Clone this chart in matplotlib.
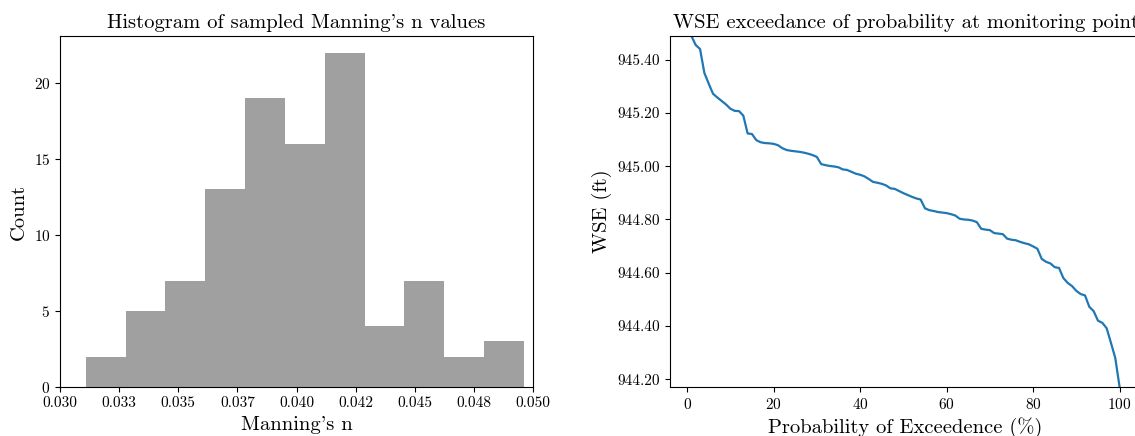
"""Histogram of sampled Manning's n and WSE exceedance curve."""

import matplotlib
matplotlib.use("Agg")
import matplotlib.pyplot as plt
from matplotlib.ticker import FormatStrFormatter


# Histogram of sampled Manning's n (11 bins, 100 samples)
N_MIN = 0.03109
N_MAX = 0.04961
HIST_COUNTS = [2, 5, 7, 13, 19, 16, 22, 4, 7, 2, 3]

# WSE values sorted descending, one per sample (exceedance rank 1..100)
WSE_SORTED = [
    945.489, 945.455, 945.440, 945.350, 945.310, 945.272, 945.258, 945.245,
    945.232, 945.216, 945.208, 945.207, 945.190, 945.123, 945.121, 945.098,
    945.090, 945.087, 945.086, 945.084, 945.079, 945.068, 945.061, 945.058,
    945.056, 945.054, 945.051, 945.047, 945.042, 945.035, 945.008, 945.004,
    945.001, 944.999, 944.996, 944.988, 944.986, 944.979, 944.972, 944.968,
    944.962, 944.952, 944.941, 944.938, 944.934, 944.928, 944.917, 944.915,
    944.907, 944.899, 944.892, 944.885, 944.879, 944.875, 944.842, 944.835,
    944.832, 944.828, 944.826, 944.824, 944.820, 944.815, 944.803, 944.800,
    944.799, 944.796, 944.790, 944.765, 944.762, 944.760, 944.749, 944.747,
    944.745, 944.728, 944.724, 944.722, 944.716, 944.711, 944.707, 944.699,
    944.690, 944.652, 944.641, 944.635, 944.621, 944.618, 944.580, 944.562,
    944.550, 944.532, 944.520, 944.515, 944.472, 944.456, 944.420, 944.412,
    944.392, 944.337, 944.280, 944.171,
]

TITLE_SIZE = 14.8
LABEL_SIZE = 14.8
TICK_SIZE = 11

plt.rcParams["font.family"] = "serif"
plt.rcParams["font.serif"] = ["cmr10"]
plt.rcParams["mathtext.fontset"] = "cm"
plt.rcParams["axes.formatter.use_mathtext"] = True

fig = plt.figure(figsize=(11.35, 4.36), dpi=100)
ax1 = fig.add_axes([60 / 1135, 49 / 436, 473 / 1135, 351 / 436])
ax2 = fig.add_axes([670 / 1135, 49 / 436, 471 / 1135, 351 / 436])

# Left: histogram -------------------------------------------------------------
nbins = len(HIST_COUNTS)
width = (N_MAX - N_MIN) / nbins
edges = [N_MIN + i * width for i in range(nbins + 1)]
ax1.hist(edges[:-1], bins=edges, weights=HIST_COUNTS, color="gray", alpha=0.75)
ax1.set_xlim(0.030, 0.050)
ax1.xaxis.set_major_formatter(FormatStrFormatter("%.3f"))
ax1.set_title("Histogram of sampled Manning's n values", fontsize=TITLE_SIZE)
ax1.set_xlabel("Manning's n", fontsize=LABEL_SIZE)
ax1.set_ylabel("Count", fontsize=LABEL_SIZE)
ax1.tick_params(labelsize=TICK_SIZE)

# Right: exceedance curve -----------------------------------------------------
n = len(WSE_SORTED)
exceed = [(i + 1) / n * 100 for i in range(n)]
ax2.plot(exceed, WSE_SORTED, color="#1f77b4", linewidth=1.6)
ax2.set_ylim(min(WSE_SORTED), max(WSE_SORTED))
ax2.yaxis.set_major_formatter(FormatStrFormatter("%.2f"))
ax2.set_title("WSE exceedance of probability at monitoring point",
              fontsize=TITLE_SIZE)
ax2.set_xlabel("Probability of Exceedence (%)", fontsize=LABEL_SIZE)
ax2.set_ylabel("WSE (ft)", fontsize=LABEL_SIZE)
ax2.tick_params(labelsize=TICK_SIZE)

fig.savefig("out.png", dpi=100)
